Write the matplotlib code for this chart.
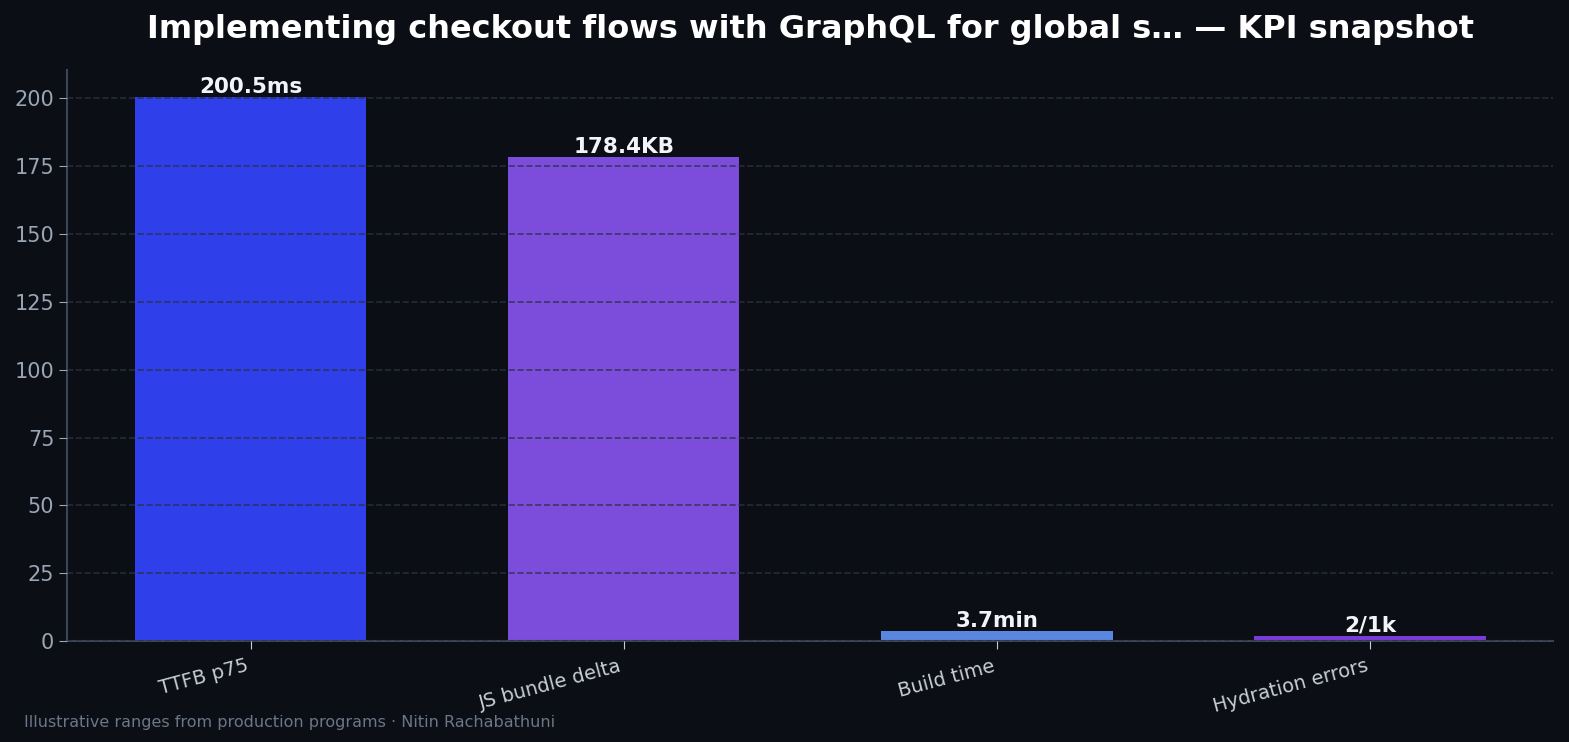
import matplotlib
matplotlib.use("Agg")
import matplotlib.pyplot as plt

plt.rcParams['font.family'] = ['DejaVu Sans']

categories = ["TTFB p75", "JS bundle delta", "Build time", "Hydration errors"]
values = [200.5, 178.4, 3.7, 2.0]
labels = ["200.5ms", "178.4KB", "3.7min", "2/1k"]
colors = ["#2f3fea", "#7c4ddb", "#5b86e0", "#7a3bd8"]

bg = "#0b0e14"
fig, ax = plt.subplots(figsize=(15.69, 7.42), dpi=100)
fig.patch.set_facecolor(bg)
ax.set_facecolor(bg)

x = range(len(categories))
bars = ax.bar(x, values, width=0.62, color=colors, zorder=2)
for b, lab in zip(bars, labels):
    ax.annotate(lab, (b.get_x() + b.get_width() / 2, b.get_height()),
                xytext=(0, 0), textcoords="offset points",
                ha="center", va="bottom", fontsize=15.5, fontweight="bold",
                color="#f2f4f8", zorder=4)

ax.set_ylim(0, 210.5)
ax.set_yticks(range(0, 201, 25))
ax.set_xticks(list(x))
ax.set_xticklabels(categories, rotation=15, ha="right", fontsize=14, color="#c8cdd6")
ax.tick_params(axis="y", labelsize=15, colors="#9aa5b5", length=6)
ax.tick_params(axis="x", colors="#c8cdd6", length=6, pad=5)
ax.yaxis.grid(True, linestyle="--", color="#2a3142", alpha=0.8, linewidth=1.2, zorder=3)
ax.set_axisbelow(False)
for s in ["top", "right"]:
    ax.spines[s].set_visible(False)
for s in ["left", "bottom"]:
    ax.spines[s].set_color("#3b4556")
    ax.spines[s].set_linewidth(1.5)

ax.set_title("Implementing checkout flows with GraphQL for global s\u2026 \u2014 KPI snapshot",
             fontsize=23, fontweight="bold", color="#ffffff", pad=23)
fig.text(0.015, 0.02, "Illustrative ranges from production programs \u00b7 Nitin Rachabathuni",
         fontsize=11.5, color="#6b7687")

fig.subplots_adjust(left=0.043, right=0.99, top=0.906, bottom=0.136)
fig.savefig("out.png", dpi=100, facecolor=bg)
